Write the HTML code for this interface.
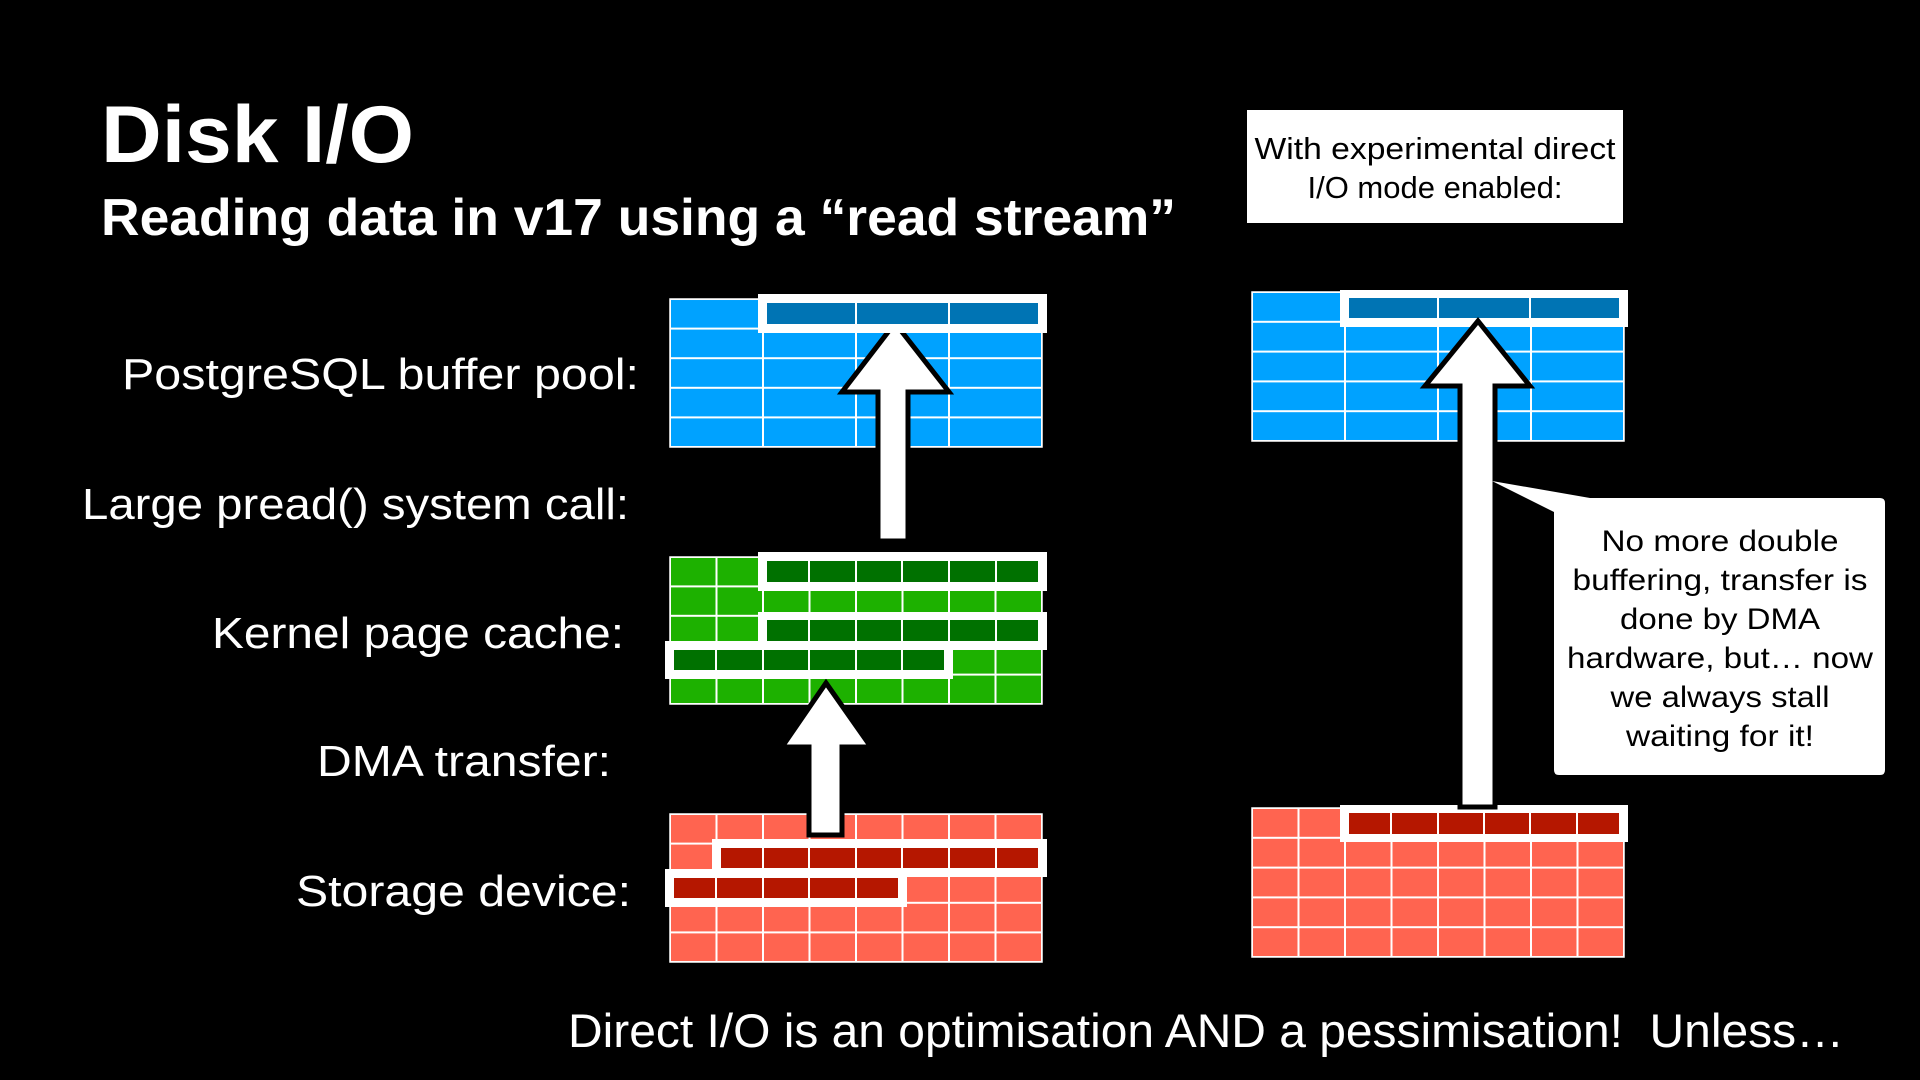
<!DOCTYPE html>
<html><head><meta charset="utf-8"><style>
html,body{margin:0;padding:0;background:#000;}
svg{display:block;}
text{font-family:"Liberation Sans",Arial,sans-serif;fill:#fff;}
</style></head><body>
<svg width="1920" height="1080" viewBox="0 0 1920 1080" xmlns="http://www.w3.org/2000/svg">
<defs>
<pattern id="pb" patternUnits="userSpaceOnUse" x="670" y="299" width="93" height="29.6"><rect x="0" y="0" width="93" height="29.6" fill="none" stroke="#fff" stroke-width="2"/></pattern>
<pattern id="pg" patternUnits="userSpaceOnUse" x="670" y="557" width="46.5" height="29.4"><rect x="0" y="0" width="46.5" height="29.4" fill="none" stroke="#fff" stroke-width="2"/></pattern>
<pattern id="pr" patternUnits="userSpaceOnUse" x="670" y="814" width="46.5" height="29.6"><rect x="0" y="0" width="46.5" height="29.6" fill="none" stroke="#fff" stroke-width="2"/></pattern>
<pattern id="pb2" patternUnits="userSpaceOnUse" x="1252" y="292" width="93" height="29.8"><rect x="0" y="0" width="93" height="29.8" fill="none" stroke="#fff" stroke-width="2"/></pattern>
<pattern id="pr2" patternUnits="userSpaceOnUse" x="1252" y="808" width="46.5" height="29.8"><rect x="0" y="0" width="46.5" height="29.8" fill="none" stroke="#fff" stroke-width="2"/></pattern>
</defs>

<!-- Titles -->
<text x="101" y="162" font-size="81" font-weight="bold" textLength="313" lengthAdjust="spacingAndGlyphs">Disk I/O</text>
<text x="101" y="235" font-size="52" font-weight="bold" textLength="1075" lengthAdjust="spacingAndGlyphs">Reading data in v17 using a “read stream”</text>

<!-- Labels -->
<text x="122" y="389" font-size="44" textLength="517" lengthAdjust="spacingAndGlyphs">PostgreSQL buffer pool:</text>
<text x="82" y="519" font-size="44" textLength="547" lengthAdjust="spacingAndGlyphs">Large pread() system call:</text>
<text x="212" y="648" font-size="44" textLength="412" lengthAdjust="spacingAndGlyphs">Kernel page cache:</text>
<text x="317" y="776" font-size="44" textLength="294" lengthAdjust="spacingAndGlyphs">DMA transfer:</text>
<text x="296" y="906" font-size="44" textLength="335" lengthAdjust="spacingAndGlyphs">Storage device:</text>

<!-- Left grids -->
<rect x="670" y="299" width="372" height="148" fill="#00a2ff"/>
<rect x="670" y="299" width="372" height="148" fill="url(#pb)" stroke="#fff" stroke-width="1.5"/>
<rect x="670" y="557" width="372" height="147" fill="#1db100"/>
<rect x="670" y="557" width="372" height="147" fill="url(#pg)" stroke="#fff" stroke-width="1.5"/>
<rect x="670" y="814" width="372" height="148" fill="#ff6450"/>
<rect x="670" y="814" width="372" height="148" fill="url(#pr)" stroke="#fff" stroke-width="1.5"/>

<!-- Left arrows -->
<polygon points="895,323 949,392 908,392 908,541 878,541 878,392 842,392" fill="#fff" stroke="#000" stroke-width="5" stroke-linejoin="miter"/>
<polygon points="826,683 871,747 842,747 842,835 809,835 809,747 782,747" fill="#fff" stroke="#000" stroke-width="5" stroke-linejoin="miter"/>

<!-- Left highlights -->
<rect x="758" y="294" width="289" height="39" fill="#fff"/>
<rect x="767" y="303" width="271" height="21" fill="#0074b4"/>
<g stroke="#fff" stroke-width="2"><line x1="856" y1="303" x2="856" y2="324"/><line x1="949" y1="303" x2="949" y2="324"/></g>

<rect x="758" y="552" width="289" height="39" fill="#fff"/>
<rect x="767" y="561" width="271" height="21" fill="#007100"/>
<g stroke="#fff" stroke-width="2"><line x1="809" y1="561" x2="809" y2="582"/><line x1="856" y1="561" x2="856" y2="582"/><line x1="902" y1="561" x2="902" y2="582"/><line x1="949" y1="561" x2="949" y2="582"/><line x1="996" y1="561" x2="996" y2="582"/></g>

<rect x="758" y="612" width="289" height="38" fill="#fff"/>
<rect x="767" y="620" width="271" height="21" fill="#007100"/>
<g stroke="#fff" stroke-width="2"><line x1="809" y1="620" x2="809" y2="641"/><line x1="856" y1="620" x2="856" y2="641"/><line x1="902" y1="620" x2="902" y2="641"/><line x1="949" y1="620" x2="949" y2="641"/><line x1="996" y1="620" x2="996" y2="641"/></g>

<rect x="665" y="641" width="288" height="38" fill="#fff"/>
<rect x="674" y="650" width="270" height="20" fill="#007100"/>
<g stroke="#fff" stroke-width="2"><line x1="716" y1="650" x2="716" y2="670"/><line x1="763" y1="650" x2="763" y2="670"/><line x1="809" y1="650" x2="809" y2="670"/><line x1="856" y1="650" x2="856" y2="670"/><line x1="902" y1="650" x2="902" y2="670"/></g>

<rect x="712" y="839" width="335" height="38" fill="#fff"/>
<rect x="721" y="848" width="317" height="20" fill="#b51700"/>
<g stroke="#fff" stroke-width="2"><line x1="763" y1="848" x2="763" y2="868"/><line x1="809" y1="848" x2="809" y2="868"/><line x1="856" y1="848" x2="856" y2="868"/><line x1="902" y1="848" x2="902" y2="868"/><line x1="949" y1="848" x2="949" y2="868"/><line x1="996" y1="848" x2="996" y2="868"/></g>

<rect x="665" y="869" width="242" height="38" fill="#fff"/>
<rect x="674" y="878" width="224" height="20" fill="#b51700"/>
<g stroke="#fff" stroke-width="2"><line x1="716" y1="878" x2="716" y2="898"/><line x1="763" y1="878" x2="763" y2="898"/><line x1="809" y1="878" x2="809" y2="898"/><line x1="856" y1="878" x2="856" y2="898"/></g>

<!-- Right top box -->
<rect x="1247" y="110" width="376" height="113" fill="#fff"/>
<text x="1435" y="159" font-size="31" text-anchor="middle" style="fill:#000" textLength="361" lengthAdjust="spacingAndGlyphs">With experimental direct</text>
<text x="1435" y="198" font-size="31" text-anchor="middle" style="fill:#000">I/O mode enabled:</text>

<!-- Right grids -->
<rect x="1252" y="292" width="372" height="149" fill="#00a2ff"/>
<rect x="1252" y="292" width="372" height="149" fill="url(#pb2)" stroke="#fff" stroke-width="1.5"/>
<rect x="1252" y="808" width="372" height="149" fill="#ff6450"/>
<rect x="1252" y="808" width="372" height="149" fill="url(#pr2)" stroke="#fff" stroke-width="1.5"/>

<rect x="1340" y="290" width="288" height="37" fill="#fff"/>
<rect x="1349" y="298" width="270" height="20" fill="#0074b4"/>
<g stroke="#fff" stroke-width="2"><line x1="1438" y1="298" x2="1438" y2="318"/><line x1="1530" y1="298" x2="1530" y2="318"/></g>

<rect x="1340" y="805" width="288" height="37" fill="#fff"/>
<rect x="1349" y="813" width="270" height="21" fill="#b51700"/>
<g stroke="#fff" stroke-width="2"><line x1="1391" y1="813" x2="1391" y2="834"/><line x1="1438" y1="813" x2="1438" y2="834"/><line x1="1484" y1="813" x2="1484" y2="834"/><line x1="1530" y1="813" x2="1530" y2="834"/><line x1="1577" y1="813" x2="1577" y2="834"/></g>

<!-- Right arrow -->
<polygon points="1478,321 1530,386 1495,386 1495,807 1460,807 1460,386 1425,386" fill="#fff" stroke="#000" stroke-width="5" stroke-linejoin="miter"/>

<!-- Callout -->
<path d="M1559,498 L1880,498 Q1885,498 1885,503 L1885,770 Q1885,775 1880,775 L1559,775 Q1554,775 1554,770 L1554,512 L1492,481 L1590,498 Z" fill="#fff"/>
<g font-size="30" text-anchor="middle">
<text x="1720" y="551" style="fill:#000" textLength="237" lengthAdjust="spacingAndGlyphs">No more double</text>
<text x="1720" y="590" style="fill:#000" textLength="295" lengthAdjust="spacingAndGlyphs">buffering, transfer is</text>
<text x="1720" y="629" style="fill:#000" textLength="200" lengthAdjust="spacingAndGlyphs">done by DMA</text>
<text x="1720" y="668" style="fill:#000" textLength="306" lengthAdjust="spacingAndGlyphs">hardware, but… now</text>
<text x="1720" y="707" style="fill:#000" textLength="219" lengthAdjust="spacingAndGlyphs">we always stall</text>
<text x="1720" y="746" style="fill:#000" textLength="188" lengthAdjust="spacingAndGlyphs">waiting for it!</text>
</g>

<!-- Bottom text -->
<text x="568" y="1047" font-size="47" textLength="1276" lengthAdjust="spacingAndGlyphs" xml:space="preserve">Direct I/O is an optimisation AND a pessimisation!  Unless…</text>
</svg>
</body></html>
